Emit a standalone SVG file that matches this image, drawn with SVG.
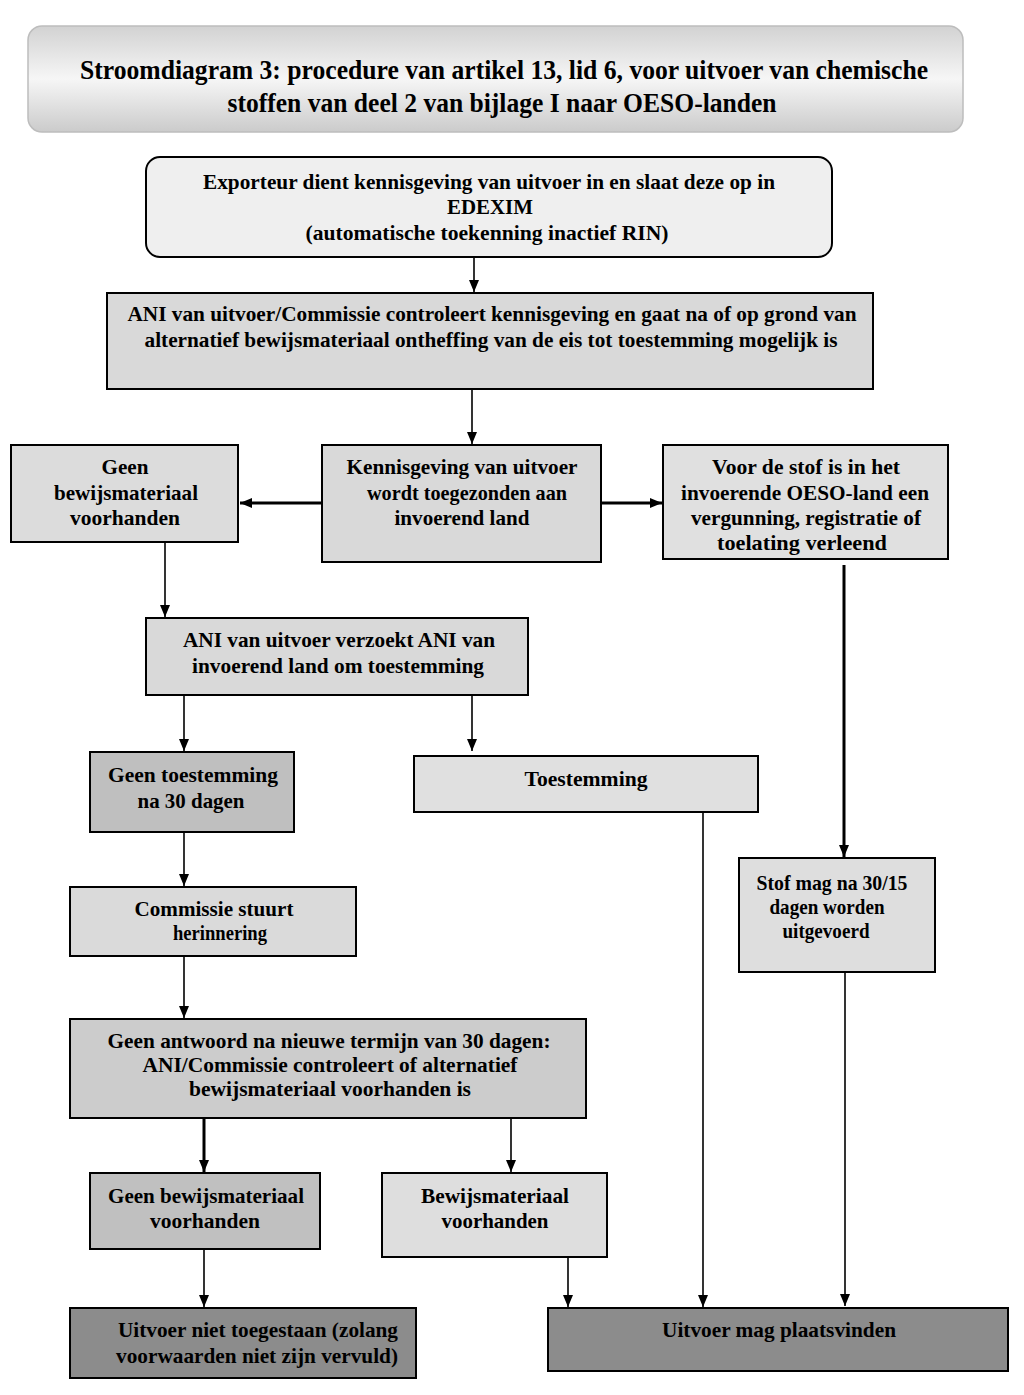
<svg xmlns="http://www.w3.org/2000/svg" width="1024" height="1395" viewBox="0 0 1024 1395">
<defs>
<linearGradient id="tg" x1="0" y1="0" x2="0" y2="1">
<stop offset="0" stop-color="#d2d2d2"/>
<stop offset="0.5" stop-color="#f6f6f6"/>
<stop offset="1" stop-color="#cbcbcb"/>
</linearGradient>
<marker id="ah" viewBox="0 0 12 10" refX="12" refY="5" markerWidth="12" markerHeight="10" markerUnits="userSpaceOnUse" orient="auto">
<path d="M0,0 L12,5 L0,10 Z" fill="#000"/>
</marker>
<marker id="ahb" viewBox="0 0 12 10" refX="12" refY="5" markerWidth="12" markerHeight="12" markerUnits="userSpaceOnUse" orient="auto">
<path d="M0,0 L12,5 L0,10 Z" fill="#000"/>
</marker>
</defs>
<style>
text{font-family:"Liberation Serif","Times New Roman",serif;font-weight:bold;fill:#000;text-anchor:middle;font-size:22px}
.t{font-size:27px}
.b{stroke:#000;stroke-width:2}
.c{stroke:#000;stroke-width:1.6;fill:none}
.cb{stroke:#000;stroke-width:3;fill:none}
</style>
<rect width="1024" height="1395" fill="#fff"/>

<g id="title">
<rect x="28" y="26" width="935" height="106" rx="14" fill="url(#tg)" stroke="#bdbdbd" stroke-width="1.5"/>
<text class="t" x="504" y="79" textLength="848" lengthAdjust="spacingAndGlyphs">Stroomdiagram 3: procedure van artikel 13, lid 6, voor uitvoer van chemische</text>
<text class="t" x="502" y="112" textLength="549" lengthAdjust="spacingAndGlyphs">stoffen van deel 2 van bijlage I naar OESO-landen</text>
</g>

<g id="n1">
<rect class="b" x="146" y="157" width="686" height="100" rx="14" fill="#efefef"/>
<text x="489" y="189" textLength="572" lengthAdjust="spacingAndGlyphs">Exporteur dient kennisgeving van uitvoer in en slaat deze op in</text>
<text x="490" y="214" textLength="86" lengthAdjust="spacingAndGlyphs">EDEXIM</text>
<text x="487" y="240" textLength="363" lengthAdjust="spacingAndGlyphs">(automatische toekenning inactief RIN)</text>
</g>

<g id="n2">
<rect class="b" x="107" y="293" width="766" height="96" fill="#d9d9d9"/>
<text x="492" y="321" textLength="729" lengthAdjust="spacingAndGlyphs">ANI van uitvoer/Commissie controleert kennisgeving en gaat na of op grond van</text>
<text x="491" y="347" textLength="693" lengthAdjust="spacingAndGlyphs">alternatief bewijsmateriaal ontheffing van de eis tot toestemming mogelijk is</text>
</g>

<g id="n3">
<rect class="b" x="11" y="445" width="227" height="97" fill="#dcdcdc"/>
<text x="125" y="474" textLength="47" lengthAdjust="spacingAndGlyphs">Geen</text>
<text x="126" y="500" textLength="144" lengthAdjust="spacingAndGlyphs">bewijsmateriaal</text>
<text x="125" y="525" textLength="110" lengthAdjust="spacingAndGlyphs">voorhanden</text>
</g>

<g id="n4">
<rect class="b" x="322" y="445" width="279" height="117" fill="#d9d9d9"/>
<text x="462" y="474" textLength="231" lengthAdjust="spacingAndGlyphs">Kennisgeving van uitvoer</text>
<text x="467" y="500" textLength="200" lengthAdjust="spacingAndGlyphs">wordt toegezonden aan</text>
<text x="462" y="525" textLength="135" lengthAdjust="spacingAndGlyphs">invoerend land</text>
</g>

<g id="n5">
<rect class="b" x="663" y="445" width="285" height="114" fill="#e0e0e0"/>
<text x="806" y="474" textLength="188" lengthAdjust="spacingAndGlyphs">Voor de stof is in het</text>
<text x="805" y="500" textLength="248" lengthAdjust="spacingAndGlyphs">invoerende OESO-land een</text>
<text x="806" y="525" textLength="230" lengthAdjust="spacingAndGlyphs">vergunning, registratie of</text>
<text x="802" y="550" textLength="170" lengthAdjust="spacingAndGlyphs">toelating verleend</text>
</g>

<g id="n6">
<rect class="b" x="146" y="618" width="382" height="77" fill="#d9d9d9"/>
<text x="339" y="647" textLength="312" lengthAdjust="spacingAndGlyphs">ANI van uitvoer verzoekt ANI van</text>
<text x="338" y="673" textLength="292" lengthAdjust="spacingAndGlyphs">invoerend land om toestemming</text>
</g>

<g id="n7">
<rect class="b" x="90" y="752" width="204" height="80" fill="#bfbfbf"/>
<text x="193" y="782" textLength="170" lengthAdjust="spacingAndGlyphs">Geen toestemming</text>
<text x="191" y="808" textLength="107" lengthAdjust="spacingAndGlyphs">na 30 dagen</text>
</g>

<g id="n8">
<rect class="b" x="414" y="756" width="344" height="56" fill="#e0e0e0"/>
<text x="586" y="786" textLength="123" lengthAdjust="spacingAndGlyphs">Toestemming</text>
</g>

<g id="n9">
<rect class="b" x="739" y="858" width="196" height="114" fill="#dedede"/>
<text x="832" y="890" textLength="151" lengthAdjust="spacingAndGlyphs">Stof mag na 30/15</text>
<text x="827" y="914" textLength="115" lengthAdjust="spacingAndGlyphs">dagen worden</text>
<text x="826" y="938" textLength="87" lengthAdjust="spacingAndGlyphs">uitgevoerd</text>
</g>

<g id="n10">
<rect class="b" x="70" y="887" width="286" height="69" fill="#dadada"/>
<text x="214" y="916" textLength="159" lengthAdjust="spacingAndGlyphs">Commissie stuurt</text>
<text x="220" y="940" textLength="94" lengthAdjust="spacingAndGlyphs">herinnering</text>
</g>

<g id="n11">
<rect class="b" x="70" y="1019" width="516" height="99" fill="#cccccc"/>
<text x="329" y="1048" textLength="443" lengthAdjust="spacingAndGlyphs">Geen antwoord na nieuwe termijn van 30 dagen:</text>
<text x="330" y="1072" textLength="375" lengthAdjust="spacingAndGlyphs">ANI/Commissie controleert of alternatief</text>
<text x="330" y="1096" textLength="282" lengthAdjust="spacingAndGlyphs">bewijsmateriaal voorhanden is</text>
</g>

<g id="n12">
<rect class="b" x="90" y="1173" width="230" height="76" fill="#c0c0c0"/>
<text x="206" y="1203" textLength="196" lengthAdjust="spacingAndGlyphs">Geen bewijsmateriaal</text>
<text x="205" y="1228" textLength="110" lengthAdjust="spacingAndGlyphs">voorhanden</text>
</g>

<g id="n13">
<rect class="b" x="382" y="1173" width="225" height="84" fill="#dedede"/>
<text x="495" y="1203" textLength="148" lengthAdjust="spacingAndGlyphs">Bewijsmateriaal</text>
<text x="495" y="1228" textLength="107" lengthAdjust="spacingAndGlyphs">voorhanden</text>
</g>

<g id="n14">
<rect class="b" x="70" y="1308" width="346" height="70" fill="#8c8c8c"/>
<text x="258" y="1337" textLength="280" lengthAdjust="spacingAndGlyphs">Uitvoer niet toegestaan (zolang</text>
<text x="257" y="1363" textLength="282" lengthAdjust="spacingAndGlyphs">voorwaarden niet zijn vervuld)</text>
</g>

<g id="n15">
<rect class="b" x="548" y="1308" width="460" height="63" fill="#8c8c8c"/>
<text x="779" y="1337" textLength="234" lengthAdjust="spacingAndGlyphs">Uitvoer mag plaatsvinden</text>
</g>

<g id="connectors">
<line class="c" x1="474" y1="257" x2="474" y2="292" marker-end="url(#ah)"/>
<line class="c" x1="472" y1="389" x2="472" y2="444" marker-end="url(#ah)"/>
<line class="cb" x1="322" y1="503" x2="240" y2="503" marker-end="url(#ahb)"/>
<line class="cb" x1="601" y1="503" x2="662" y2="503" marker-end="url(#ahb)"/>
<line class="c" x1="165" y1="542" x2="165" y2="617" marker-end="url(#ah)"/>
<line class="cb" x1="844" y1="565" x2="844" y2="857" marker-end="url(#ah)"/>
<line class="c" x1="184" y1="695" x2="184" y2="751" marker-end="url(#ah)"/>
<line class="c" x1="472" y1="695" x2="472" y2="751" marker-end="url(#ah)"/>
<line class="c" x1="703" y1="812" x2="703" y2="1307" marker-end="url(#ah)"/>
<line class="c" x1="845" y1="972" x2="845" y2="1306" marker-end="url(#ah)"/>
<line class="c" x1="184" y1="832" x2="184" y2="886" marker-end="url(#ah)"/>
<line class="c" x1="184" y1="956" x2="184" y2="1018" marker-end="url(#ah)"/>
<line class="cb" x1="204" y1="1118" x2="204" y2="1172" marker-end="url(#ah)"/>
<line class="c" x1="511" y1="1118" x2="511" y2="1172" marker-end="url(#ah)"/>
<line class="c" x1="204" y1="1249" x2="204" y2="1307" marker-end="url(#ah)"/>
<line class="c" x1="568" y1="1257" x2="568" y2="1307" marker-end="url(#ah)"/>
</g>
</svg>
